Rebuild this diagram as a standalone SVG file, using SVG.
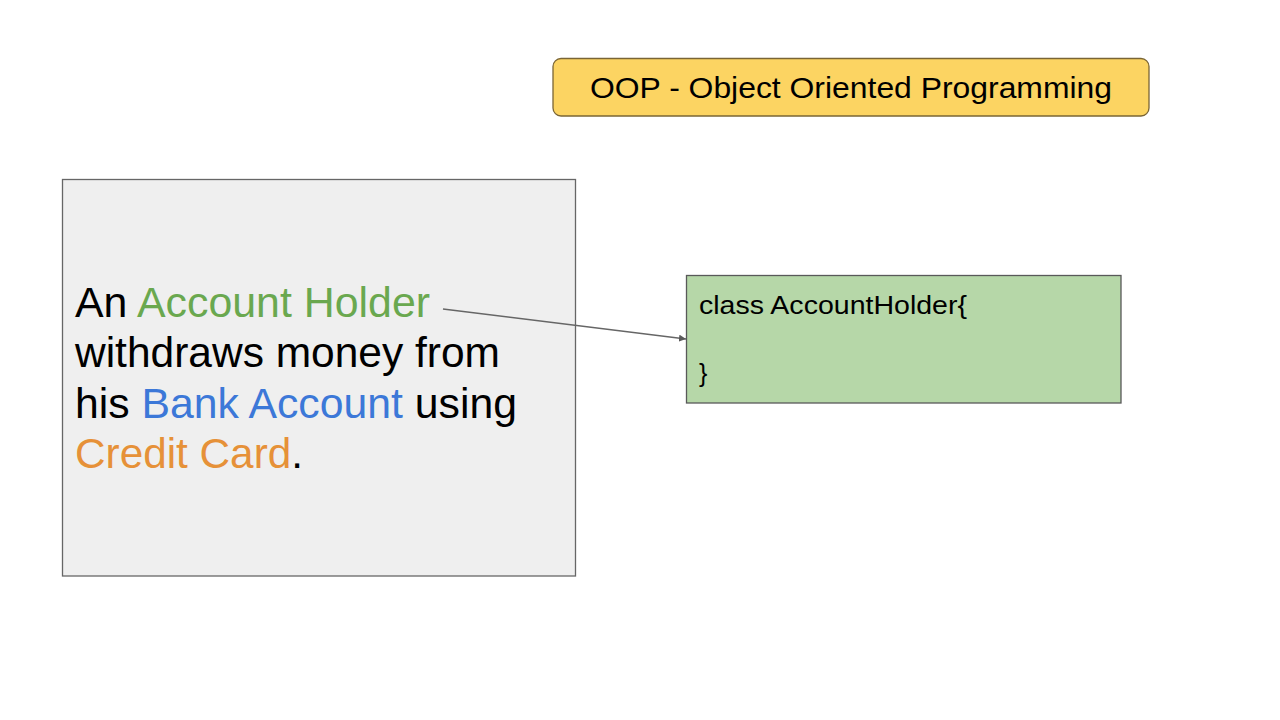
<svg xmlns="http://www.w3.org/2000/svg" width="1280" height="720" viewBox="0 0 1280 720">
  <style>
    text { font-family: "Liberation Sans", Arial, sans-serif; }
    .title { font-size: 30px; fill: #000; }
    .story { font-size: 42px; fill: #000; }
    .code { font-size: 25px; fill: #000; }
    .green { fill: #6aa84f; }
    .blue { fill: #3c78d8; }
    .orange { fill: #e69138; }
    .conn { stroke: #666666; stroke-width: 1.3; fill: none; }
  </style>
  <defs>
    <marker id="arrow" viewBox="0 0 10 10" refX="10" refY="5" markerWidth="7" markerHeight="7" markerUnits="userSpaceOnUse" orient="auto">
      <path d="M0,0 L10,5 L0,10 z" fill="#595959"/>
    </marker>
  </defs>
  <rect width="1280" height="720" fill="#ffffff"/>

  <g id="title">
    <rect x="553" y="58.5" width="596" height="57.5" rx="8" ry="8" fill="#fcd462" stroke="#7a6535" stroke-width="1.3"/>
    <text class="title" x="590" y="98" textLength="522" lengthAdjust="spacingAndGlyphs">OOP - Object Oriented Programming</text>
  </g>

  <g id="story">
    <rect x="62.5" y="179.5" width="513" height="396.5" fill="#efefef" stroke="#666666" stroke-width="1.3"/>
    <text class="story" x="75" y="316.5" textLength="355" lengthAdjust="spacingAndGlyphs">An <tspan class="green">Account Holder</tspan></text>
    <text class="story" x="75" y="367" textLength="425" lengthAdjust="spacingAndGlyphs">withdraws money from</text>
    <text class="story" x="75" y="417.5" textLength="442" lengthAdjust="spacingAndGlyphs">his <tspan class="blue">Bank Account</tspan> using</text>
    <text class="story" x="75" y="468" textLength="228" lengthAdjust="spacingAndGlyphs"><tspan class="orange">Credit Card</tspan>.</text>
  </g>

  <g id="accountholder-class">
    <rect x="686.5" y="275.5" width="434.5" height="127.5" fill="#b6d7a8" stroke="#595959" stroke-width="1.3"/>
    <text class="code" x="699" y="314" textLength="268" lengthAdjust="spacingAndGlyphs">class AccountHolder{</text>
    <text class="code" x="699" y="382">}</text>
  </g>

  <g id="connectors">
    <line class="conn" x1="443" y1="309" x2="686" y2="339" marker-end="url(#arrow)"/>
  </g>
</svg>
